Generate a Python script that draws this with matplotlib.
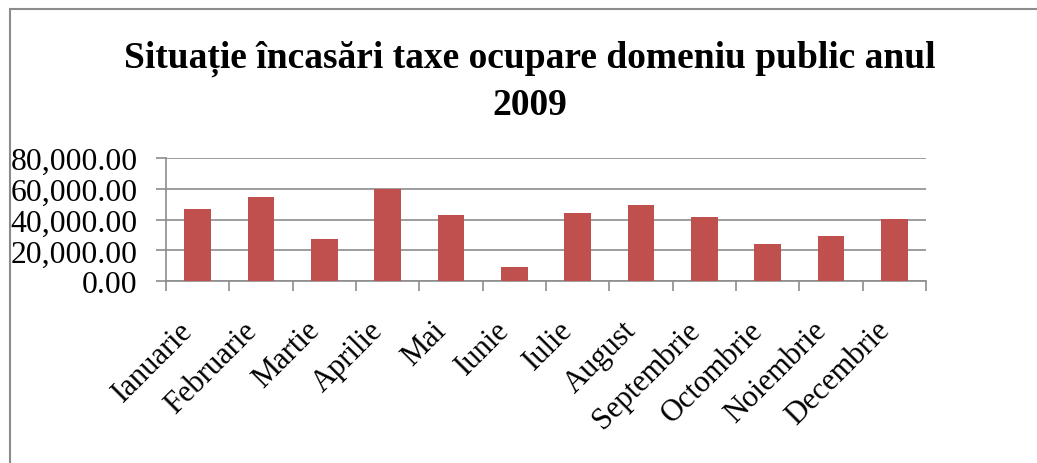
import matplotlib
matplotlib.use('Agg')
import matplotlib.pyplot as plt
import matplotlib.patches as patches
import matplotlib.transforms as mtransforms
from matplotlib.ticker import FuncFormatter, FixedLocator, NullFormatter
import numpy as np

# monthly receipts (lei)
months = ['Ianuarie', 'Februarie', 'Martie', 'Aprilie', 'Mai', 'Iunie',
          'Iulie', 'August', 'Septembrie', 'Octombrie', 'Noiembrie', 'Decembrie']
values = [46900, 54700, 27300, 60000, 43000, 8900,
          44300, 49500, 41700, 24000, 29200, 40400]
yticks = [0, 20000, 40000, 60000, 80000]

plt.rcParams['font.family'] = ['Liberation Serif', 'DejaVu Serif']

fig = plt.figure(figsize=(10.37, 4.64), dpi=100)
ax = fig.add_axes([0.160, 0.392, 0.733, 0.265])

x = np.arange(len(months))
ax.bar(x, values, width=0.42, color='#C0504D', zorder=3)

ax.set_xlim(-0.5, len(months) - 0.5)
ax.set_ylim(0, 80000)
ax.set_yticks(yticks)
ax.yaxis.set_major_formatter(FuncFormatter(lambda v, p: '{:,.2f}'.format(v)))
ax.grid(axis='y', color='#8C8C8C', linewidth=1.2, zorder=0)

# category labels at centres, tick marks at the boundaries
ax.set_xticks(x)
ax.set_xticklabels(months, rotation=45, ha='right', va='center',
                   rotation_mode='anchor', fontsize=22)
ax.tick_params(axis='x', which='major', length=0, pad=32)
shift = mtransforms.ScaledTranslation(-0.09, 0, fig.dpi_scale_trans)
for lbl in ax.get_xticklabels():
    lbl.set_transform(lbl.get_transform() + shift)
ax.xaxis.set_minor_locator(FixedLocator(np.arange(-0.5, len(months), 1)))
ax.xaxis.set_minor_formatter(NullFormatter())
ax.tick_params(axis='x', which='minor', length=7.5, width=1.2, color='#8C8C8C')
ax.tick_params(axis='y', labelsize=22.8, length=7.5, width=1.2, color='#8C8C8C', pad=13)

for s in ['top', 'right']:
    ax.spines[s].set_visible(False)
for s in ['left', 'bottom']:
    ax.spines[s].set_color('#8C8C8C')
    ax.spines[s].set_linewidth(1.2)

fig.text(0.511, 0.824, 'Situație încasări taxe ocupare domeniu public anul\n2009',
         ha='center', va='center', fontsize=27, fontweight='bold', linespacing=1.42)

# chart border
fig.patches.append(patches.Rectangle((10 / 1037, -0.1), 1.2, 454 / 464 + 0.1,
                                     transform=fig.transFigure, fill=False,
                                     edgecolor='#8C8C8C', linewidth=1.5))

fig.savefig('out.png', dpi=100)
